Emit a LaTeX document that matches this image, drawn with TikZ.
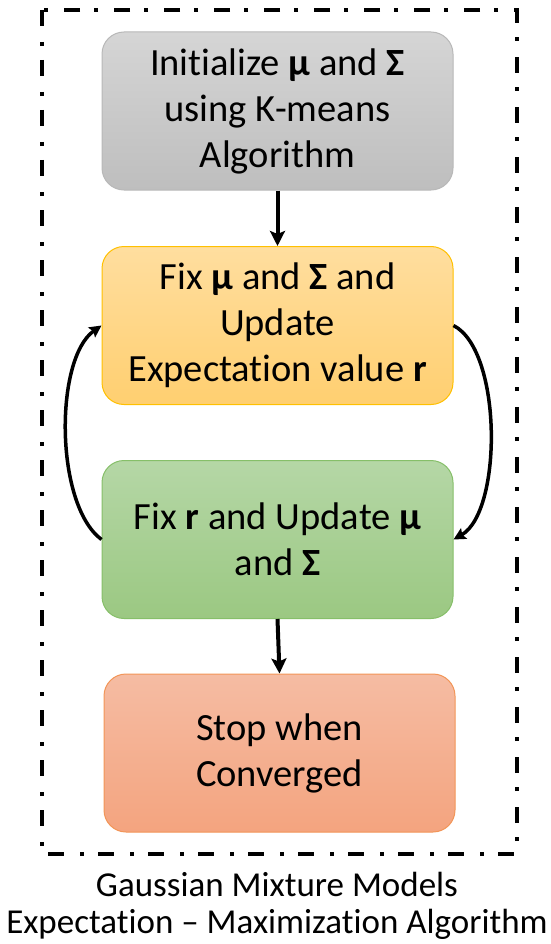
\documentclass[tikz,border=0pt]{standalone}
\usepackage{fontspec}
\setmainfont{Carlito}[Ligatures=NoCommon]
\usetikzlibrary{arrows.meta}

\definecolor{grayTop}{HTML}{D5D5D5}
\definecolor{grayBot}{HTML}{BEBEBE}
\definecolor{grayEdge}{HTML}{B8B8B8}
\definecolor{orTop}{HTML}{FFDE9F}
\definecolor{orBot}{HTML}{FFCF70}
\definecolor{orEdge}{HTML}{FFC000}
\definecolor{grTop}{HTML}{B5D7A6}
\definecolor{grBot}{HTML}{9BC882}
\definecolor{grEdge}{HTML}{86BF69}
\definecolor{rdTop}{HTML}{F5BCA3}
\definecolor{rdBot}{HTML}{F4A47F}
\definecolor{rdEdge}{HTML}{F29557}

\begin{document}
\begin{tikzpicture}[x=1pt,y=-1pt,
  stepbox/.style={rounded corners=22pt, minimum width=351pt, minimum height=158pt,
    align=center, inner sep=0pt, line width=1pt,
    font=\fontsize{38.5pt}{46pt}\selectfont},
  straight/.style={line width=4pt, -{Stealth[length=15pt,width=15pt,inset=3pt]}},
  loopy/.style={line width=3.5pt, -{Stealth[length=12pt,width=12pt,inset=2pt]}},
  frame/.style={line width=4pt, dash pattern=on 16pt off 16pt on 4pt off 14pt}]
\useasboundingbox (0,0) rectangle (550,944);

% outer dash-dot frame
\draw[frame] (42,10) rectangle (517,854);

% process steps
\node[stepbox, draw=grayEdge, top color=grayTop, bottom color=grayBot] (init) at (277.5,111)
  {Initialize \textbf{μ} and \textbf{Σ}\\using K-means\\Algorithm};
\node[stepbox, draw=orEdge, top color=orTop, bottom color=orBot] (estep) at (277.5,325.5)
  {Fix \textbf{μ} and \textbf{Σ} and\\Update\\Expectation value \textbf{r}};
\node[stepbox, draw=grEdge, top color=grTop, bottom color=grBot] (mstep) at (277.5,539.5)
  {Fix \textbf{r} and Update \textbf{μ}\\and \textbf{Σ}};
\node[stepbox, draw=rdEdge, top color=rdTop, bottom color=rdBot] (stop) at (279.5,753)
  {Stop when\\Converged};

% caption
\node[align=center, inner sep=0pt, font=\fontsize{35pt}{37pt}\selectfont] (caption) at (277,906)
  {Gaussian Mixture Models\\Expectation – Maximization Algorithm};

% connectors
\draw[straight] (init.south) -- (estep.north);
\draw[straight] (mstep.south) -- (stop.north);
\draw[loopy] (mstep.west) .. controls +(-47,-35) and +(-47,33) .. (estep.west);
\draw[loopy] (estep.east) .. controls +(49,25) and +(49,-28) .. (mstep.east);
\end{tikzpicture}
\end{document}
